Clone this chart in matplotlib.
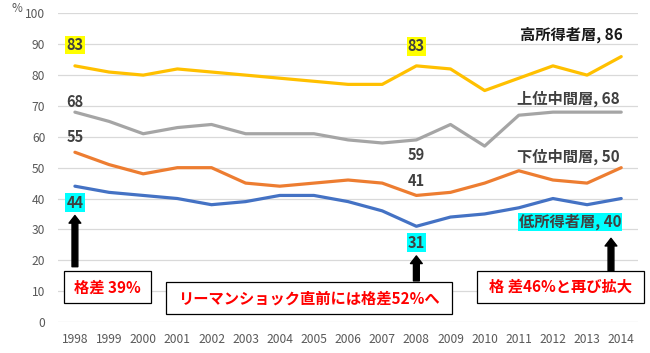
import matplotlib
matplotlib.use('Agg')
import matplotlib.pyplot as plt
from matplotlib.patches import Rectangle

plt.rcParams['font.family'] = ['Noto Sans CJK JP', 'DejaVu Sans']

years = [1998, 1999, 2000, 2001, 2002, 2003, 2004, 2005, 2006,
         2007, 2008, 2009, 2010, 2011, 2012, 2013, 2014]
high_income = [83, 81, 80, 82, 81, 80, 79, 78, 77, 77, 83, 82, 75, 79, 83, 80, 86]
upper_middle = [68, 65, 61, 63, 64, 61, 61, 61, 59, 58, 59, 64, 57, 67, 68, 68, 68]
lower_middle = [55, 51, 48, 50, 50, 45, 44, 45, 46, 45, 41, 42, 45, 49, 46, 45, 50]
low_income = [44, 42, 41, 40, 38, 39, 41, 41, 39, 36, 31, 34, 35, 37, 40, 38, 40]

series_names = ['高所得者層', '上位中間層', '下位中間層', '低所得者層']
colors = ['#FFC000', '#A5A5A5', '#ED7D31', '#4472C4']
y_ticks = [0, 10, 20, 30, 40, 50, 60, 70, 80, 90, 100]

notes = ['格差 39%', 'リーマンショック直前には格差52%へ', '格 差46%と再び拡大']


def dibujar_lineas(ax):
    x = list(range(len(years)))
    for vals, col in zip([high_income, upper_middle, lower_middle, low_income], colors):
        ax.plot(x, vals, color=col, lw=2.3, solid_capstyle='round', zorder=3)


def etiquetas(ax):
    lab = dict(fontsize=10.5, fontweight='bold', color='#404040', ha='center', va='center', zorder=5)
    i08 = years.index(2008)
    ax.text(0, high_income[0] + 6.8, str(high_income[0]),
            bbox=dict(facecolor='#FFFF00', edgecolor='none', pad=0.8), **lab)
    ax.text(i08, high_income[i08] + 6.3, str(high_income[i08]),
            bbox=dict(facecolor='#FFFF00', edgecolor='none', pad=0.8), **lab)
    ax.text(0, upper_middle[0] + 3.3, str(upper_middle[0]), **lab)
    ax.text(0, lower_middle[0] + 5.0, str(lower_middle[0]), **lab)
    ax.text(i08, upper_middle[i08] - 5.0, str(upper_middle[i08]), **lab)
    ax.text(i08, lower_middle[i08] + 4.6, str(lower_middle[i08]), **lab)
    ax.text(0, low_income[0] - 5.3, str(low_income[0]),
            bbox=dict(facecolor='#00FFFF', edgecolor='none', pad=0.8), **lab)
    ax.text(i08, low_income[i08] - 5.3, str(low_income[i08]),
            bbox=dict(facecolor='#00FFFF', edgecolor='none', pad=0.8), **lab)

    # nombres de series al final
    last = len(years) - 1
    nom = dict(fontsize=11, fontweight='bold', ha='right', va='center', zorder=5)
    ax.text(last + 0.03, high_income[-1] + 7.0, f'{series_names[0]}, {high_income[-1]}', color='#1a1a1a', **nom)
    ax.text(last - 0.05, upper_middle[-1] + 4.5, f'{series_names[1]}, {upper_middle[-1]}', color='#404040', **nom)
    ax.text(last - 0.05, lower_middle[-1] + 3.6, f'{series_names[2]}, {lower_middle[-1]}', color='#404040', **nom)
    ax.text(last, low_income[-1] - 7.5, f'{series_names[3]}, {low_income[-1]}', color='#404040',
            bbox=dict(facecolor='#00FFFF', edgecolor='none', pad=0.5), **nom)


def flechas(ax):
    ap = dict(facecolor='black', edgecolor='black', width=4.2, headwidth=8.5, headlength=5.5, shrink=0)
    i08 = years.index(2008)
    ax.annotate('', xy=(0, 34.5), xytext=(0, 17.9), arrowprops=ap, zorder=6)
    ax.annotate('', xy=(i08, 21.4), xytext=(i08, 13.3), arrowprops=ap, zorder=6)
    ax.annotate('', xy=(15.7, 27.1), xytext=(15.7, 16.6), arrowprops=ap, zorder=6)


def cajas(ax):
    boxes = [(-0.32, 6.0, 2.54, 10.5), (2.68, 2.5, 8.37, 10.4), (11.77, 6.0, 4.89, 10.6)]
    for (x0, y0, w, h), txt in zip(boxes, notes):
        ax.add_patch(Rectangle((x0, y0), w, h, facecolor='white', edgecolor='black',
                               lw=0.9, clip_on=False, zorder=7))
        ax.text(x0 + w / 2, y0 + h / 2, txt, color='#FF0000', fontsize=11, fontweight='bold',
                ha='center', va='center', zorder=8, clip_on=False)


def main():
    fig = plt.figure(figsize=(6.5, 3.53), dpi=100)
    ax = fig.add_axes([0.089, 0.088, 0.893, 0.874])

    dibujar_lineas(ax)
    etiquetas(ax)
    flechas(ax)
    cajas(ax)

    ax.set_xlim(-0.5, len(years) - 0.5)
    ax.set_ylim(0, 100)
    ax.set_yticks(y_ticks)
    ax.set_xticks(range(len(years)))
    ax.set_xticklabels([str(y) for y in years])
    ax.tick_params(length=0, labelsize=8.7, labelcolor='#595959')
    ax.tick_params(axis='x', pad=8)
    ax.tick_params(axis='y', pad=9)
    ax.grid(axis='y', color='#D9D9D9', lw=0.9)
    ax.set_axisbelow(True)
    for s in ax.spines.values():
        s.set_visible(False)

    fig.text(17 / 650, 1 - 9 / 353, '%', fontsize=8.5, color='#595959', ha='center', va='center')

    fig.savefig('out.png', dpi=100)


if __name__ == '__main__':
    main()
